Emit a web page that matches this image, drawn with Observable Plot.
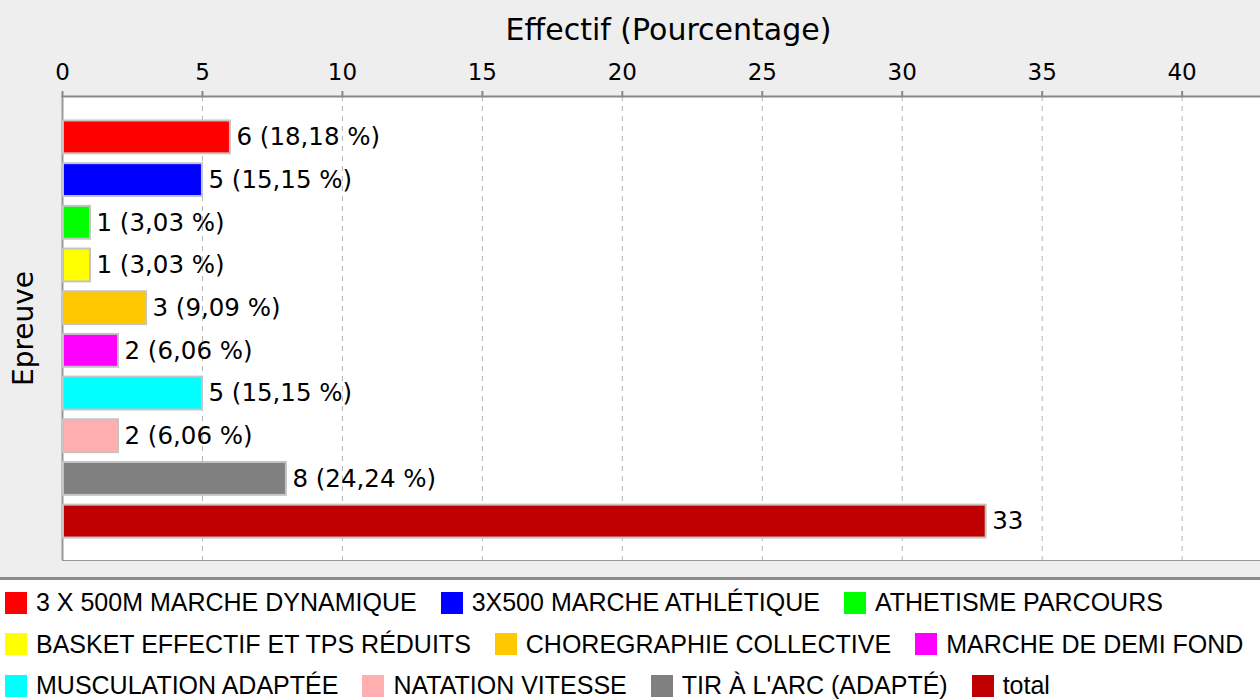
<!DOCTYPE html>
<html><head><meta charset="utf-8">
<script src="https://cdn.jsdelivr.net/npm/d3@7"></script>
<script src="https://cdn.jsdelivr.net/npm/@observablehq/plot@0.6"></script>
<style>
html,body{margin:0;padding:0;background:#eeeeee;overflow:hidden;width:1260px;height:699px}
#legend{background:#fff;border-top:3px solid #8c8c8c;height:130px;box-sizing:border-box;padding:2px 0 0 5px;display:flex;flex-wrap:wrap;column-gap:24px;align-content:flex-start;font-family:"Liberation Sans",Arial,sans-serif;font-size:25px;color:#000}
.item{display:flex;align-items:center;height:41.5px}
.sw{width:22px;height:22px;margin-right:9px}
</style></head>
<body>
<div id="chart"></div>
<div id="legend"></div>
<script>
const categories = ["3 X 500M MARCHE DYNAMIQUE","3X500 MARCHE ATHLÉTIQUE","ATHETISME PARCOURS","BASKET EFFECTIF ET TPS RÉDUITS","CHOREGRAPHIE COLLECTIVE","MARCHE DE DEMI FOND","MUSCULATION ADAPTÉE","NATATION VITESSE","TIR À L'ARC (ADAPTÉ)","total"];
const counts = [6,5,1,1,3,2,5,2,8,33];
const pctLabels = ["18,18","15,15","3,03","3,03","9,09","6,06","15,15","6,06","24,24",""];
const colors = ["#ff0000","#0000ff","#00ff00","#ffff00","#ffc800","#ff00ff","#00ffff","#ffafaf","#808080","#c00000"];
const xTicks = [0,5,10,15,20,25,30,35,40];

const data = categories.map((c,i)=>({cat:c,n:counts[i],label: pctLabels[i] ? `${counts[i]} (${pctLabels[i]} %)` : `${counts[i]}`}));

const chart = Plot.plot({
  width:1260, height:577,
  marginTop:96, marginLeft:62, marginRight:0, marginBottom:17,
  style:{background:"#eeeeee", fontFamily:"DejaVu Sans", fontSize:"23px", color:"#000"},
  x:{domain:[0,42.8], ticks:xTicks},
  y:{domain:categories, range:[97,561], paddingInner:0.23, paddingOuter:0.55, round:false, axis:null},
  color:{domain:categories, range:colors},
  marks:[
    Plot.frame({fill:"white"}),
    Plot.gridX(xTicks,{stroke:"#b4b4b4", strokeOpacity:1, strokeDasharray:"5,5"}),
    Plot.frame({anchor:"bottom", stroke:"#999"}),
    Plot.frame({anchor:"top", stroke:"#888", strokeWidth:2}),
    Plot.ruleX([0],{stroke:"#999", strokeWidth:2}),
    Plot.axisX(xTicks,{anchor:"top", tickSize:6, tickPadding:11, stroke:"#888", strokeWidth:2, fontSize:23, label:null}),
    Plot.barX(data,{y:"cat", x:"n", fill:"cat", stroke:"#c4c4c4", strokeWidth:2, insetLeft:1}),
    Plot.text(data,{y:"cat", x:"n", text:"label", textAnchor:"start", dx:6, fontSize:24.5, fill:"#000"}),
    Plot.text(["Effectif (Pourcentage)"],{frameAnchor:"top", lineAnchor:"middle", dy:-66, dx:7, fontSize:30, fill:"#000"}),
    Plot.text(["Epreuve"],{frameAnchor:"left", textAnchor:"middle", lineAnchor:"middle", rotate:-90, dx:-38, fontSize:28, fill:"#000"})
  ]
});
document.getElementById("chart").appendChild(chart);

const leg = document.getElementById("legend");
categories.forEach((c,i)=>{
  const it = document.createElement("div"); it.className="item";
  const sw = document.createElement("div"); sw.className="sw"; sw.style.background=colors[i];
  const t = document.createElement("span"); t.textContent=c;
  it.appendChild(sw); it.appendChild(t); leg.appendChild(it);
});
</script>
</body></html>
